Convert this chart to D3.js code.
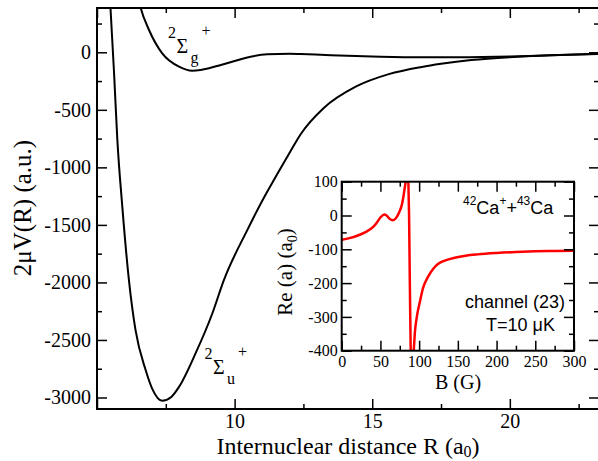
<!DOCTYPE html>
<html>
<head>
<meta charset="utf-8">
<script src="https://cdn.jsdelivr.net/npm/d3@7"></script>
<style>
  body { margin: 0; background: #fff; }
  svg { display: block; }
</style>
</head>
<body>
<svg id="chart" width="598" height="461"></svg>
<script>
// --- main panel: potential curves 2*mu*V(R) ---
const uR = [5.46, 5.49, 5.62, 5.74, 5.92, 6.16, 6.40, 6.77, 7.0, 7.37, 7.7, 7.98, 8.58, 9.19, 9.61, 10.46, 11.0, 11.55, 12.03, 12.4, 13.24, 14.4, 15.6, 16.8, 17.5, 18.6, 20.0, 21.5, 23.3];
const uV = [500, 385, -180, -763, -1343, -1980, -2415, -2763, -2920, -3028, -2995, -2908, -2617, -2270, -1980, -1545, -1292, -1058, -860, -712, -484, -299, -190, -127, -100, -67, -42, -26, -14];

const gR = [6.55, 6.59, 6.89, 7.37, 7.98, 8.46, 8.76, 9.07, 9.5, 9.97, 10.46, 11.19, 12.0, 12.4, 13.5, 15.3, 16.8, 18.5, 20.0, 21.5, 23.3];
const gV = [420, 383, 194, -9, -125, -160, -154, -139, -110, -78, -45, -17, -12, -15, -25, -38, -43, -42, -37, -26, -12];

const mainXMajor = [5, 10, 15, 20];
const mainXMinor = [7.5, 12.5, 17.5, 22.5];
const mainXLabels = [10, 15, 20];
const mainYMajor = [-3000, -2500, -2000, -1500, -1000, -500, 0];
const mainYMinor = [-2750, -2250, -1750, -1250, -750, -250, 250];

// --- inset: Re(a) vs B ---
const insetB = [0, 10, 20, 30, 41, 45, 50, 55, 58, 62, 66, 70, 74, 78, 81, 83, 84.5, 86, 87, 88, 89, 90, 91, 92, 93.3, 94.6, 97, 101, 105, 111.8, 118, 124.7, 135, 146, 160, 176, 200, 225, 250, 275, 300];
const insetA = [-72, -67, -60, -50, -33, -22, -6, 3, 0, -10, -14, -8, 8, 35, 75, 110, 160, 110, 0, -200, -380, -460, -480, -440, -390, -344, -300, -255, -215, -180, -158, -143, -132, -125, -119, -115, -111, -108, -106, -105, -104];

const insetXMajor = [0, 50, 100, 150, 200, 250, 300];
const insetXMinor = [25, 75, 125, 175, 225, 275];
const insetYMajor = [-400, -300, -200, -100, 0, 100];
const insetYMinor = [-350, -250, -150, -50, 50];

const serif = "'Liberation Serif', 'Times New Roman', serif";
const sans = "'Liberation Sans', Arial, sans-serif";

const svg = d3.select("#chart");

// draws inward ticks on all four sides of a frame
function frameAxes(g, x, y, opts) {
    const [x0, x1] = x.range();
    const [y0, y1] = y.range(); // y0 bottom, y1 top
    const xLab = opts.xLabels || opts.xMaj;
    const fmtX = d => xLab.includes(d) ? String(d) : "";
    const fmtY = d => String(d);

    const axes = [
        [d3.axisBottom(x).tickValues(opts.xMaj).tickSize(-opts.majLen).tickPadding(opts.padX).tickFormat(fmtX), `translate(0,${y0})`],
        [d3.axisBottom(x).tickValues(opts.xMin).tickSize(-opts.minLen).tickFormat(""), `translate(0,${y0})`],
        [d3.axisTop(x).tickValues(opts.xMaj).tickSize(-opts.majLen).tickFormat(""), `translate(0,${y1})`],
        [d3.axisTop(x).tickValues(opts.xMin).tickSize(-opts.minLen).tickFormat(""), `translate(0,${y1})`],
        [d3.axisLeft(y).tickValues(opts.yMaj).tickSize(-opts.majLen).tickPadding(opts.padY).tickFormat(fmtY), `translate(${x0},0)`],
        [d3.axisLeft(y).tickValues(opts.yMin).tickSize(-opts.minLen).tickFormat(""), `translate(${x0},0)`],
        [d3.axisRight(y).tickValues(opts.yMaj).tickSize(-opts.majLen).tickFormat(""), `translate(${x1},0)`],
        [d3.axisRight(y).tickValues(opts.yMin).tickSize(-opts.minLen).tickFormat(""), `translate(${x1},0)`]
    ];
    axes.forEach(([axis, tr]) => {
        const a = g.append("g").attr("transform", tr).call(axis);
        a.attr("font-family", null).attr("font-size", null);
        a.select(".domain").remove();
        a.selectAll("line").attr("stroke", "#000").attr("stroke-width", 1.5);
        a.selectAll("text")
            .style("font-family", serif)
            .style("font-size", opts.fontSize + "px")
            .attr("fill", "#000");
    });

    g.append("rect")
        .attr("x", x0).attr("y", y1)
        .attr("width", x1 - x0).attr("height", y0 - y1)
        .attr("fill", "none")
        .attr("stroke", "#000")
        .attr("stroke-width", 2);
}

// ---------- main panel ----------
const x = d3.scaleLinear().domain([5, 23.24]).range([97, 599]);
const y = d3.scaleLinear().domain([-3100, 385]).range([409, 8]);

svg.append("defs").append("clipPath").attr("id", "clipMain")
    .append("rect")
    .attr("x", 97).attr("y", 8)
    .attr("width", 599 - 97).attr("height", 409 - 8);

const line = d3.line()
    .x(d => x(d[0]))
    .y(d => y(d[1]))
    .curve(d3.curveMonotoneX);

const curves = svg.append("g").attr("clip-path", "url(#clipMain)");
curves.append("path")
    .datum(uR.map((r, i) => [r, uV[i]]))
    .attr("d", line)
    .attr("fill", "none").attr("stroke", "#000").attr("stroke-width", 2);
curves.append("path")
    .datum(gR.map((r, i) => [r, gV[i]]))
    .attr("d", line)
    .attr("fill", "none").attr("stroke", "#000").attr("stroke-width", 2);

frameAxes(svg.append("g"), x, y, {
    xMaj: mainXMajor, xMin: mainXMinor, xLabels: mainXLabels,
    yMaj: mainYMajor, yMin: mainYMinor,
    fontSize: 20, padX: 5, padY: 6, majLen: 10, minLen: 5
});

// state labels
function stateLabel(pos, sub) {
    const t = svg.append("text").style("font-family", serif).attr("fill", "#000");
    t.append("tspan").attr("x", pos.x).attr("y", pos.y - 15).attr("font-size", 16).text("2");
    t.append("tspan").attr("x", pos.x + 8.5).attr("y", pos.y).attr("font-size", 20).text("Σ");
    t.append("tspan").attr("x", pos.x + 22.5).attr("y", pos.y + 10).attr("font-size", 16).text(sub);
    t.append("tspan").attr("x", pos.x + 33.5).attr("y", pos.y - 17).attr("font-size", 16).text("+");
}
stateLabel({ x: 168, y: 52.5 }, "g");
stateLabel({ x: 204.5, y: 374 }, "u");

// axis titles
const xt = svg.append("text")
    .attr("x", 348).attr("y", 454)
    .attr("text-anchor", "middle")
    .style("font-family", serif).attr("font-size", 24).attr("fill", "#000");
xt.append("tspan").text("Internuclear distance R (a");
xt.append("tspan").attr("font-size", 16).attr("dy", 3).text("0");
xt.append("tspan").attr("dy", -3).text(")");

svg.append("text")
    .attr("transform", "translate(31,208) rotate(-90)")
    .attr("text-anchor", "middle")
    .style("font-family", serif).attr("font-size", 25).attr("fill", "#000")
    .text("2μV(R) (a.u.)");

// ---------- inset ----------
const ix = d3.scaleLinear().domain([0, 300]).range([341.7, 574]);
const iy = d3.scaleLinear().domain([-400, 100]).range([350.7, 181.7]);

svg.append("rect")
    .attr("x", 341.7).attr("y", 181.7)
    .attr("width", 574 - 341.7).attr("height", 350.7 - 181.7)
    .attr("fill", "#fff");

svg.select("defs").append("clipPath").attr("id", "clipInset")
    .append("rect")
    .attr("x", 341.7).attr("y", 181.7)
    .attr("width", 574 - 341.7).attr("height", 350.7 - 181.7);

const iline = d3.line()
    .x(d => ix(d[0]))
    .y(d => iy(d[1]))
    .curve(d3.curveMonotoneX);

svg.append("g").attr("clip-path", "url(#clipInset)")
    .append("path")
    .datum(insetB.map((b, i) => [b, insetA[i]]))
    .attr("d", iline)
    .attr("fill", "none").attr("stroke", "#ff0000").attr("stroke-width", 2.5);

frameAxes(svg.append("g"), ix, iy, {
    xMaj: insetXMajor, xMin: insetXMinor,
    yMaj: insetYMajor, yMin: insetYMinor,
    fontSize: 16, padX: 5, padY: 4, majLen: 10, minLen: 5
});

svg.append("text")
    .attr("x", 458).attr("y", 389)
    .attr("text-anchor", "middle")
    .style("font-family", serif).attr("font-size", 20).attr("fill", "#000")
    .text("B (G)");

const yt = svg.append("text")
    .attr("transform", "translate(292,272) rotate(-90)")
    .attr("text-anchor", "middle")
    .style("font-family", serif).attr("font-size", 21).attr("fill", "#000");
yt.append("tspan").text("Re (a) (a");
yt.append("tspan").attr("font-size", 14).attr("dy", 5).text("0");
yt.append("tspan").attr("dy", -5).text(")");

// inset annotations
const iso = svg.append("text")
    .attr("x", 463).attr("y", 214)
    .style("font-family", sans).attr("font-size", 18).attr("fill", "#000");
iso.append("tspan").attr("font-size", 12).attr("dy", -9).text("42");
iso.append("tspan").attr("dy", 9).text("Ca");
iso.append("tspan").attr("font-size", 12).attr("dy", -9).text("+");
iso.append("tspan").attr("dy", 9).text("+");
iso.append("tspan").attr("font-size", 12).attr("dy", -9).text("43");
iso.append("tspan").attr("dy", 9).text("Ca");

svg.append("text")
    .attr("x", 465).attr("y", 308)
    .style("font-family", sans).attr("font-size", 18).attr("fill", "#000")
    .text("channel (23)");
svg.append("text")
    .attr("x", 486).attr("y", 331)
    .style("font-family", sans).attr("font-size", 18).attr("fill", "#000")
    .text("T=10 μK");
</script>
</body>
</html>
